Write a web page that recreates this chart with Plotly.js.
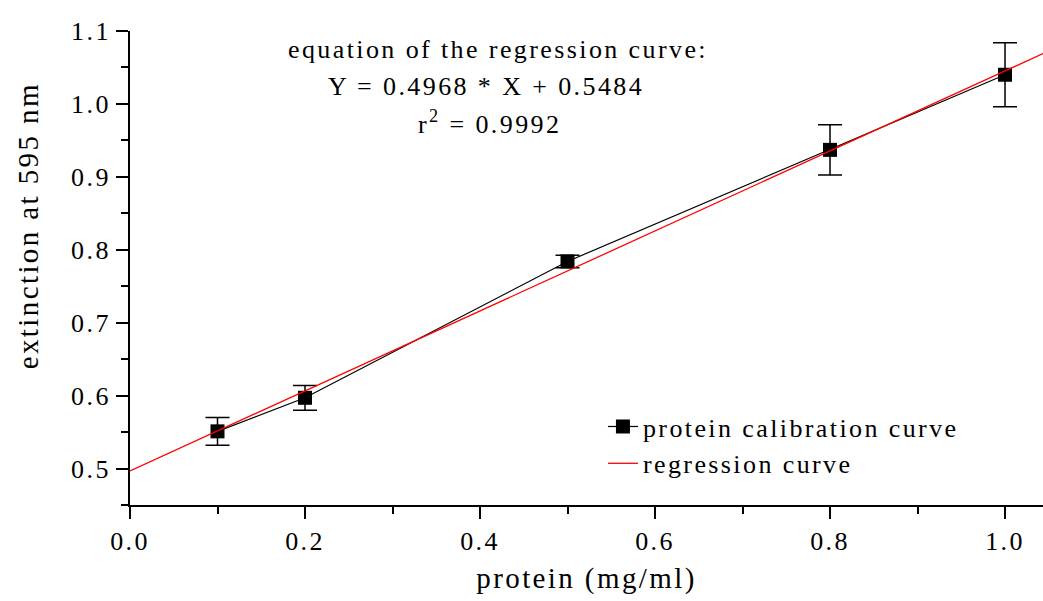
<!DOCTYPE html>
<html>
<head>
<meta charset="utf-8">
<script src="https://cdn.plot.ly/plotly-3.0.1.min.js"></script>
<style>
html,body{margin:0;padding:0;background:#fff;}
#chart{width:1043px;height:601px;}
text{letter-spacing:2.4px;}
</style>
</head>
<body>
<div id="chart"></div>
<script>
// Data
const proteinConc = [0.1, 0.2, 0.5, 0.8, 1.0];
const extinction = [0.551, 0.597, 0.784, 0.937, 1.040];
const extinctionErr = [0.019, 0.017, 0.0085, 0.0345, 0.044];
const regressionX = [0.0, 1.0434];
const regressionY = [0.4968, 1.0690];

const seriesNames = ["protein calibration curve", "regression curve"];
const eqLines = ["equation of the regression curve:", "Y = 0.4968 * X + 0.5484", "r<sup>2</sup> = 0.9992"];
const xTitle = "protein (mg/ml)";
const yTitle = "extinction at 595 nm";

const FONT = "Liberation Serif, Times New Roman, serif";

const traces = [
  {
    x: proteinConc, y: extinction, name: seriesNames[0],
    type: "scatter", mode: "lines+markers",
    line: {color: "#000", width: 1.2},
    marker: {symbol: "square", size: 14, color: "#000"},
    error_y: {type: "data", array: extinctionErr, visible: true, color: "#000", thickness: 1.5, width: 12}
  },
  {
    x: regressionX, y: regressionY, name: seriesNames[1],
    type: "scatter", mode: "lines",
    line: {color: "#ff0000", width: 1.3}
  }
];

const axisCommon = {
  showline: true, linecolor: "#000", linewidth: 2,
  ticks: "outside", ticklen: 12, tickwidth: 2, tickcolor: "#000",
  showgrid: false, zeroline: false, mirror: false,
  tickfont: {family: FONT, size: 26, color: "#000"},
  tickformat: ".1f"
};

const layout = {
  width: 1043, height: 601,
  margin: {l: 130, r: 0, t: 31, b: 96},
  paper_bgcolor: "#fff", plot_bgcolor: "#fff",
  font: {family: FONT, color: "#000"},
  showlegend: true,
  legend: {
    x: 0.518, y: 0.215, xanchor: "left", yanchor: "top",
    bgcolor: "rgba(0,0,0,0)", borderwidth: 0,
    font: {family: FONT, size: 26, color: "#000"},
    tracegroupgap: 0
  },
  xaxis: Object.assign({}, axisCommon, {
    range: [0, 1.0434], tick0: 0, dtick: 0.2,
    minor: {ticks: "outside", ticklen: 7, tickwidth: 2, tickcolor: "#000", dtick: 0.1, showgrid: false},
    title: {text: xTitle, font: {family: FONT, size: 29, color: "#000"}, standoff: 12}
  }),
  yaxis: Object.assign({}, axisCommon, {
    range: [0.45, 1.1], tick0: 0.5, dtick: 0.1,
    minor: {ticks: "outside", ticklen: 7, tickwidth: 2, tickcolor: "#000", dtick: 0.05, showgrid: false}
  }),
  annotations: [
    {text: yTitle, xref: "paper", yref: "paper", x: -0.1117, y: 0.588, textangle: -90,
     showarrow: false, xanchor: "center", yanchor: "middle", font: {family: FONT, size: 29, color: "#000"}},
    {text: eqLines[0], xref: "paper", yref: "paper", x: (498-130)/913, y: (505-50)/474,
     showarrow: false, xanchor: "center", yanchor: "middle", font: {family: FONT, size: 26, color: "#000"}},
    {text: eqLines[1], xref: "paper", yref: "paper", x: (486-130)/913, y: (505-86)/474,
     showarrow: false, xanchor: "center", yanchor: "middle", font: {family: FONT, size: 26, color: "#000"}},
    {text: eqLines[2], xref: "paper", yref: "paper", x: (489-130)/913, y: (505-122)/474,
     showarrow: false, xanchor: "center", yanchor: "middle", font: {family: FONT, size: 26, color: "#000"}}
  ]
};

Plotly.newPlot("chart", traces, layout, {displayModeBar: false, staticPlot: true});
</script>
</body>
</html>
